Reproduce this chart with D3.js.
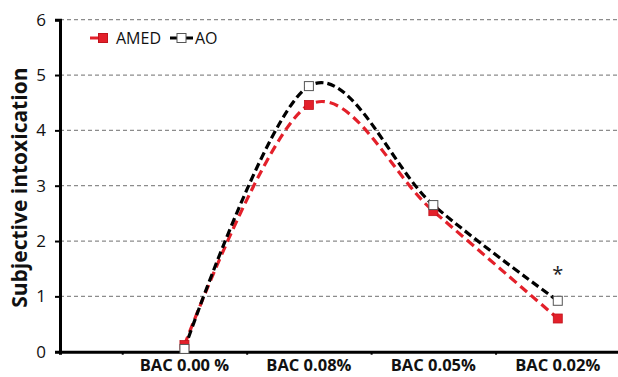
<!DOCTYPE html>
<html>
<head>
<meta charset="utf-8">
<script src="https://cdn.jsdelivr.net/npm/d3@7"></script>
<style>
  body { margin: 0; background: #fff; }
  text { font-family: "Open Sans", sans-serif; }
</style>
</head>
<body>
<div id="chart"></div>
<script>
const categories = ['BAC 0.00 %', 'BAC 0.08%', 'BAC 0.05%', 'BAC 0.02%'];
const amed = [0.12, 4.46, 2.54, 0.6];
const ao = [0.05, 4.8, 2.65, 0.92];
const yTicks = [0, 1, 2, 3, 4, 5, 6];

const width = 618, height = 377;
const red = '#e3202a';

const svg = d3.select('#chart').append('svg')
    .attr('width', width)
    .attr('height', height);

// category index -> px; index -1 sits on the y axis
const x = d3.scaleLinear().domain([-1, 3.5]).range([60, 620]);
const y = d3.scaleLinear().domain([0, 6]).range([351.7, 19.7]);

// gridlines
svg.append('g')
    .selectAll('line')
    .data(yTicks.filter(d => d > 0))
    .enter().append('line')
        .attr('x1', x(-1)).attr('x2', width)
        .attr('y1', d => y(d)).attr('y2', d => y(d))
        .attr('stroke', '#8c8c8c')
        .attr('stroke-width', 1.3)
        .attr('stroke-dasharray', '4,3');

// y axis
const yAxis = svg.append('g')
    .attr('transform', `translate(${x(-1)},0)`)
    .call(d3.axisLeft(y).tickValues(yTicks).tickSize(5).tickPadding(9).tickFormat(d3.format('d')));
yAxis.select('.domain').attr('stroke', '#000').attr('stroke-width', 3);
yAxis.selectAll('.tick line').attr('stroke', '#000').attr('stroke-width', 2);
yAxis.selectAll('.tick text')
    .attr('font-size', 17)
    .attr('fill', '#111')
    .style('font-family', '"Open Sans", sans-serif');

// x axis
const xAxis = svg.append('g')
    .attr('transform', `translate(0,${y(0)})`)
    .call(d3.axisBottom(x).tickValues([-0.5, 0.5, 1.5, 2.5]).tickSize(3).tickFormat(''));
xAxis.select('.domain').attr('stroke', '#000').attr('stroke-width', 3);
xAxis.selectAll('.tick line').attr('stroke', '#000').attr('stroke-width', 2);

svg.append('g')
    .selectAll('text')
    .data(categories)
    .enter().append('text')
        .attr('x', (d, i) => x(i))
        .attr('y', y(0) + 19.5)
        .attr('text-anchor', 'middle')
        .attr('font-size', 16.5)
        .attr('font-weight', 'bold')
        .attr('fill', '#111')
        .text(d => d);

// y title
svg.append('text')
    .attr('transform', `translate(27,${y(3) + 2}) rotate(-90)`)
    .attr('text-anchor', 'middle')
    .attr('font-size', 21)
    .attr('font-weight', 'bold')
    .attr('fill', '#111')
    .text('Subjective intoxication');

const line = d3.line()
    .x((d, i) => x(i))
    .y(d => y(d))
    .curve(d3.curveCatmullRom.alpha(0));

svg.append('path')
    .datum(amed)
    .attr('d', line)
    .attr('fill', 'none')
    .attr('stroke', red)
    .attr('stroke-width', 3.2)
    .attr('stroke-dasharray', '9,5');

svg.append('path')
    .datum(ao)
    .attr('d', line)
    .attr('fill', 'none')
    .attr('stroke', '#000')
    .attr('stroke-width', 3.2)
    .attr('stroke-dasharray', '8,4');

const ms = 9;
svg.append('g')
    .selectAll('rect')
    .data(amed)
    .enter().append('rect')
        .attr('x', (d, i) => x(i) - ms / 2)
        .attr('y', d => y(d) - ms / 2)
        .attr('width', ms).attr('height', ms)
        .attr('fill', red)
        .attr('stroke', '#c0141c')
        .attr('stroke-width', 0.8);

svg.append('g')
    .selectAll('rect')
    .data(ao)
    .enter().append('rect')
        .attr('x', (d, i) => x(i) - ms / 2)
        .attr('y', d => y(d) - ms / 2)
        .attr('width', ms).attr('height', ms)
        .attr('fill', '#fff')
        .attr('stroke', '#555')
        .attr('stroke-width', 1);

// significance marker
svg.append('text')
    .attr('x', x(3))
    .attr('y', y(ao[3]) - 20)
    .attr('text-anchor', 'middle')
    .attr('font-size', 20)
    .attr('fill', '#222')
    .text('*');

// legend
const legendItems = [
    { name: 'AMED', color: red, fill: red, stroke: '#c0141c', x0: 90, x1: 107, mx: 103, tx: 116 },
    { name: 'AO', color: '#000', fill: '#fff', stroke: '#555', x0: 170, x1: 193, mx: 181.5, tx: 195 }
];
const legend = svg.append('g').attr('transform', 'translate(0,38)');
legendItems.forEach(it => {
    legend.append('line')
        .attr('x1', it.x0).attr('x2', it.x1)
        .attr('stroke', it.color).attr('stroke-width', 3);
    legend.append('rect')
        .attr('x', it.mx - ms / 2).attr('y', -ms / 2)
        .attr('width', ms).attr('height', ms)
        .attr('fill', it.fill).attr('stroke', it.stroke);
    legend.append('text')
        .attr('x', it.tx).attr('y', 6)
        .attr('font-size', 16)
        .attr('fill', '#111')
        .text(it.name);
});
</script>
</body>
</html>
